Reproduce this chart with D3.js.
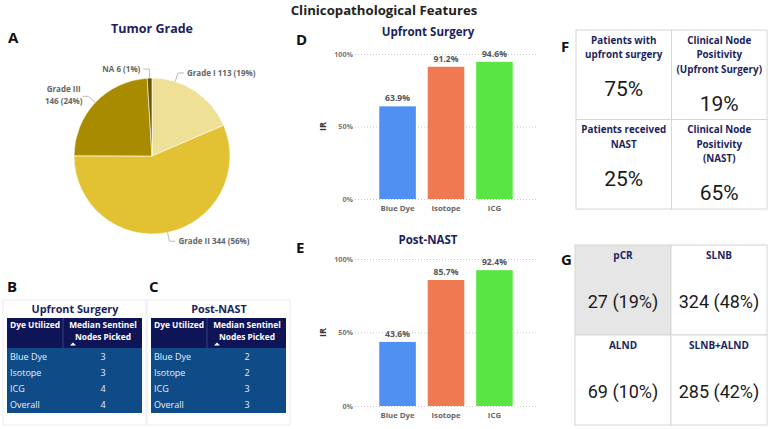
<!DOCTYPE html>
<html>
<head>
<meta charset="utf-8">
<script src="https://cdn.jsdelivr.net/npm/d3@7"></script>
<style>
  body { margin: 0; background: #fff; }
  svg { display: block; font-family: "Open Sans", "Noto Sans", sans-serif; }
</style>
</head>
<body>
<div id="viewContainer"></div>
<script>
// data
const gradeNames = ["Grade I", "Grade II", "Grade III", "NA"];
const gradeCounts = [113, 344, 146, 6];
const gradePct = ["19%", "56%", "24%", "1%"];
const gradeColors = ["#eee096", "#e2c233", "#a98b00", "#6b5900"];

const dyeRows = ["Blue Dye", "Isotope", "ICG", "Overall"];
const upfrontMedian = [3, 3, 4, 4];
const nastMedian = [2, 2, 3, 3];

const dyes = ["Blue Dye", "Isotope", "ICG"];
const dyeColors = ["#5090f2", "#ef7a51", "#5ae642"];
const upfrontIR = [0.639, 0.912, 0.946];
const nastIR = [0.436, 0.857, 0.924];
const irTicks = [0, 0.5, 1];

const fTitles = [["Patients with", "upfront surgery"], ["Clinical Node", "Positivity", "(Upfront Surgery)"],
                 ["Patients received", "NAST"], ["Clinical Node", "Positivity", "(NAST)"]];
const fValues = ["75%", "19%", "25%", "65%"];
const gTitles = ["pCR", "SLNB", "ALND", "SLNB+ALND"];
const gValues = ["27 (19%)", "324 (48%)", "69 (10%)", "285 (42%)"];

const W = 771, H = 429;
const navy = "#1b1f5e";

const svg = d3.select("#viewContainer").append("svg")
    .attr("width", W)
    .attr("height", H);

svg.append("text")
    .attr("x", 384).attr("y", 15)
    .attr("text-anchor", "middle")
    .attr("font-size", 13.2).attr("font-weight", 700).attr("fill", "#222")
    .text("Clinicopathological Features");

// panel letters
const letters = [["A", 8, 43], ["B", 7, 292], ["C", 149, 292], ["D", 296, 45], ["E", 296, 253], ["F", 561, 52], ["G", 561, 265]];
svg.selectAll(".letter")
    .data(letters)
    .enter()
    .append("text")
    .attr("class", "letter")
    .attr("x", d => d[1]).attr("y", d => d[2])
    .attr("font-size", 15).attr("font-weight", 700).attr("fill", "#111")
    .text(d => d[0]);

// ---------- A: pie ----------
function drawPie() {
    const cx = 152, cy = 156, r = 78;
    svg.append("text")
        .attr("x", cx).attr("y", 33)
        .attr("text-anchor", "middle")
        .attr("font-size", 12.5).attr("font-weight", 700).attr("fill", navy)
        .text("Tumor Grade");

    const g = svg.append("g").attr("transform", `translate(${cx},${cy})`);
    const arcs = d3.pie().sort(null).value(d => d)(gradeCounts);
    const arc = d3.arc().innerRadius(0).outerRadius(r);

    g.selectAll("path")
        .data(arcs)
        .enter()
        .append("path")
        .attr("d", arc)
        .attr("fill", (d, i) => gradeColors[i])
        .attr("stroke", "#fff")
        .attr("stroke-width", 0.6);

    // leader lines + labels
    const nudge = { 0: -0.28 };   // Grade I leader sits nearer the top
    arcs.forEach((a, i) => {
        const ang = (a.startAngle + a.endAngle) / 2 + (nudge[i] || 0);
        const sx = Math.sin(ang), sy = -Math.cos(ang);
        const p0 = [sx * r, sy * r];
        const p1 = [sx * (r + 9), sy * (r + 9)];
        const right = sx >= 0;
        const p2 = [p1[0] + (right ? 6 : -6), p1[1]];
        g.append("polyline")
            .attr("points", [p0, p1, p2].map(p => p.join(",")).join(" "))
            .attr("fill", "none").attr("stroke", "#aaa").attr("stroke-width", 0.8);
        const lines = gradeNames[i] === "Grade III"
            ? [gradeNames[i], `${gradeCounts[i]} (${gradePct[i]})`]
            : [`${gradeNames[i]} ${gradeCounts[i]} (${gradePct[i]})`];
        const t = g.append("text")
            .attr("text-anchor", right ? "start" : (lines.length > 1 ? "middle" : "end"))
            .attr("font-size", 8).attr("font-weight", 700).attr("fill", "#666");
        lines.forEach((l, k) => {
            t.append("tspan")
                .attr("x", right ? p2[0] + 3 : (lines.length > 1 ? p2[0] - 19 : p2[0] - 3))
                .attr("y", p2[1] + 3 + (k - (lines.length - 1) / 2) * 12 - (lines.length > 1 ? 1 : 0))
                .text(l);
        });
    });
}

// ---------- B, C: tables ----------
function drawTable(x0, title, values) {
    const g = svg.append("g").attr("transform", `translate(${x0},0)`);
    g.append("rect").attr("x", 0).attr("y", 300).attr("width", 143).attr("height", 125)
        .attr("fill", "#fff").attr("stroke", "#ececec");
    g.append("text").attr("x", 72).attr("y", 313).attr("text-anchor", "middle")
        .attr("font-size", 10.8).attr("font-weight", 700).attr("fill", navy).text(title);
    g.append("rect").attr("x", 4).attr("y", 318).attr("width", 135).attr("height", 30).attr("fill", "#0f1457");
    g.append("rect").attr("x", 4).attr("y", 348).attr("width", 135).attr("height", 65).attr("fill", "#0f4b87");
    g.append("line").attr("x1", 60).attr("x2", 60).attr("y1", 318).attr("y2", 348)
        .attr("stroke", "#5560a0").attr("stroke-width", 0.6);
    const hdr = { "font-size": 8.4, "font-weight": 700, "fill": "#fff" };
    const h1 = g.append("text").attr("x", 7).attr("y", 328).text("Dye Utilized");
    const h2 = g.append("text").attr("x", 100).attr("y", 328).attr("text-anchor", "middle").text("Median Sentinel");
    const h3 = g.append("text").attr("x", 100).attr("y", 339.5).attr("text-anchor", "middle").text("Nodes Picked");
    [h1, h2, h3].forEach(t => Object.entries(hdr).forEach(([k, v]) => t.attr(k, v)));
    g.append("path").attr("d", "M67,345.5 L70,342.5 L73,345.5 Z").attr("fill", "#fff");

    const y = d3.scaleBand().domain(dyeRows).range([349, 413]);
    g.selectAll(".rowname").data(dyeRows).enter().append("text")
        .attr("x", 7).attr("y", d => y(d) + y.bandwidth() / 2 + 3.2)
        .attr("font-size", 9).attr("fill", "#e8eef6").text(d => d);
    g.selectAll(".rowval").data(values).enter().append("text")
        .attr("x", 100).attr("y", (d, i) => y(dyeRows[i]) + y.bandwidth() / 2 + 3.2)
        .attr("text-anchor", "middle")
        .attr("font-size", 9).attr("fill", "#e8eef6").text(d => d);
}

// ---------- D, E: bar charts ----------
function drawBars(title, titleY, top, bottom, values) {
    svg.append("text").attr("x", 428).attr("y", titleY).attr("text-anchor", "middle")
        .attr("font-size", 11.5).attr("font-weight", 700).attr("fill", navy).text(title);

    const x = d3.scaleBand().domain(dyes).range([372.5, 519.5]).paddingInner(0.245).paddingOuter(0.14);
    const y = d3.scaleLinear().domain([0, 1]).range([bottom, top]);

    const yAxis = svg.append("g")
        .attr("transform", "translate(355,0)")
        .call(d3.axisLeft(y).tickValues(irTicks).tickFormat(d3.format(".0%")).tickSize(-182).tickPadding(2));
    yAxis.select(".domain").remove();
    yAxis.selectAll(".tick line").attr("stroke", "#c8c8c8").attr("stroke-dasharray", "1,2");
    yAxis.selectAll(".tick text").attr("font-size", 7.2).attr("font-weight", 700).attr("fill", "#777")
        .attr("font-family", "'Open Sans', sans-serif");

    svg.append("text")
        .attr("transform", `translate(326,${(top + bottom) / 2}) rotate(-90)`)
        .attr("text-anchor", "middle")
        .attr("font-size", 9).attr("font-weight", 700).attr("fill", "#333").text("IR");

    svg.selectAll(null).data(values).enter().append("rect")
        .attr("x", (d, i) => x(dyes[i]))
        .attr("y", d => y(d))
        .attr("width", x.bandwidth())
        .attr("height", d => y(0) - y(d))
        .attr("fill", (d, i) => dyeColors[i]);

    svg.selectAll(null).data(values).enter().append("text")
        .attr("x", (d, i) => x(dyes[i]) + x.bandwidth() / 2)
        .attr("y", d => y(d) - 5)
        .attr("text-anchor", "middle")
        .attr("font-size", 8.6).attr("font-weight", 700).attr("fill", "#555")
        .text(d => d3.format(".1%")(d));

    const xAxis = svg.append("g")
        .attr("transform", `translate(0,${bottom})`)
        .call(d3.axisBottom(x).tickSize(0).tickPadding(6));
    xAxis.select(".domain").remove();
    xAxis.selectAll(".tick text").attr("font-size", 7.8).attr("font-weight", 700).attr("fill", "#666")
        .attr("font-family", "'Open Sans', sans-serif");
}

// ---------- F, G: cards ----------
function drawCards(x0, y0, w, h, titles, values, opts) {
    const cw = w / 2, ch = h / 2;
    titles.forEach((t, i) => {
        const cx = x0 + (i % 2) * cw, cy = y0 + Math.floor(i / 2) * ch;
        svg.append("rect").attr("x", cx).attr("y", cy).attr("width", cw).attr("height", ch)
            .attr("fill", opts.fills ? opts.fills[i] : "#fff").attr("stroke", "#d6d6d6");
        const lines = Array.isArray(t) ? t : [t];
        lines.forEach((l, k) => {
            svg.append("text").attr("x", cx + cw / 2).attr("y", cy + 13.5 + k * 14.5)
                .attr("text-anchor", "middle")
                .attr("font-size", opts.titleSize).attr("font-weight", 700).attr("fill", navy).text(l);
        });
        svg.append("text")
            .attr("x", cx + cw / 2)
            .attr("y", opts.valueY ? cy + opts.valueY : cy + 13.5 + (lines.length - 1) * 14.5 + 38)
            .attr("text-anchor", "middle")
            .attr("font-family", "Roboto, sans-serif")
            .attr("font-size", opts.size).attr("fill", "#1a1a1a").text(values[i]);
    });
}

drawPie();
drawTable(3, "Upfront Surgery", upfrontMedian);
drawTable(147, "Post-NAST", nastMedian);
drawBars("Upfront Surgery", 36, 54, 199, upfrontIR);
drawBars("Post-NAST", 244, 259, 406, nastIR);
drawCards(576, 30, 191, 179, fTitles, fValues, { size: 21, titleSize: 9.8 });
drawCards(575, 245, 192, 180, gTitles, gValues, { size: 18, titleSize: 10, valueY: 63, fills: ["#e6e6e6", "#fff", "#fff", "#fff"] });
</script>
</body>
</html>
